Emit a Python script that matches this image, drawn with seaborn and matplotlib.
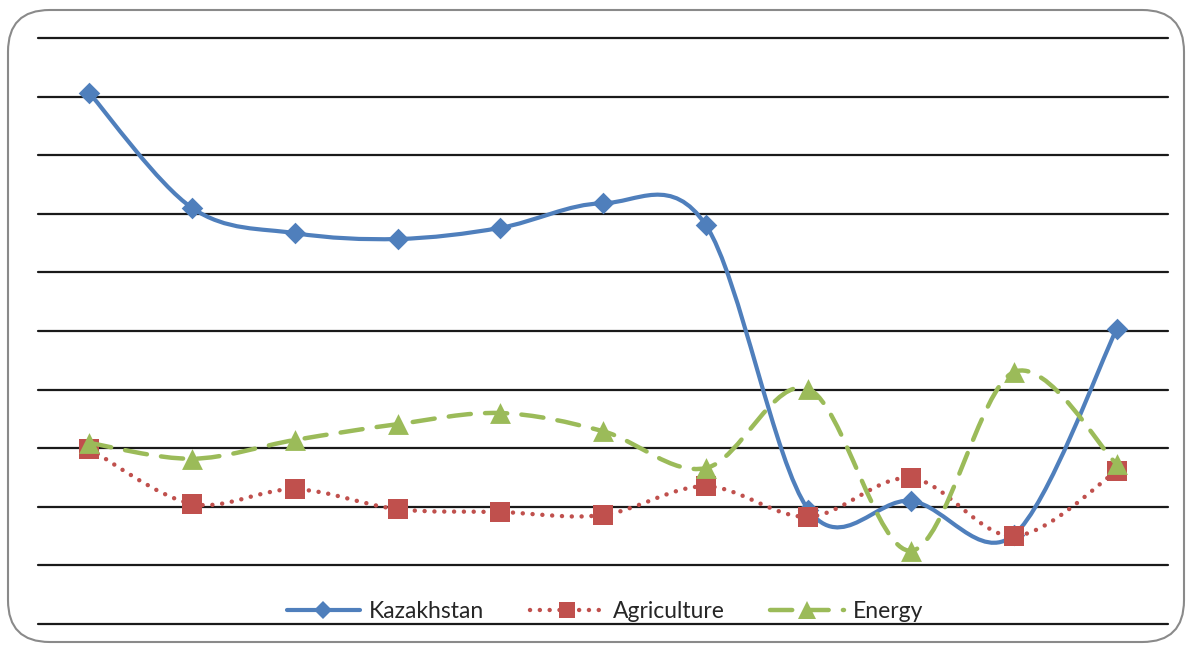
import numpy as np
import pandas as pd
import matplotlib
matplotlib.use('Agg')
import matplotlib.pyplot as plt
import seaborn as sns
from matplotlib.path import Path
from matplotlib.patches import PathPatch, FancyBboxPatch
from matplotlib.lines import Line2D

# 数据（从图上读取，纵轴无刻度，按网格线为单位）
points = list(range(1, 12))
kazakhstan = [9.06, 7.10, 6.67, 6.57, 6.76, 7.18, 6.81, 1.95, 2.10, 1.52, 5.03]
agriculture = [2.99, 2.05, 2.30, 1.96, 1.91, 1.86, 2.35, 1.83, 2.49, 1.50, 2.61]
energy = [3.09, 2.82, 3.14, 3.41, 3.60, 3.29, 2.66, 4.01, 1.25, 4.30, 2.73]
series_names = ['Kazakhstan', 'Agriculture', 'Energy']


def smooth_path(x, y):
    # 类似Excel的平滑线：Catmull-Rom转三次贝塞尔
    x = np.asarray(x, float)
    y = np.asarray(y, float)
    n = len(x)
    verts = [(x[0], y[0])]
    codes = [Path.MOVETO]
    for i in range(n - 1):
        p0 = np.array([x[max(i - 1, 0)], y[max(i - 1, 0)]])
        p1 = np.array([x[i], y[i]])
        p2 = np.array([x[i + 1], y[i + 1]])
        p3 = np.array([x[min(i + 2, n - 1)], y[min(i + 2, n - 1)]])
        c1 = p1 + (p2 - p0) / 6.0
        c2 = p2 - (p3 - p1) / 6.0
        verts += [tuple(c1), tuple(c2), tuple(p2)]
        codes += [Path.CURVE4] * 3
    return Path(verts, codes)


sns.set_style('white')
plt.rcParams['font.family'] = ['Lato', 'DejaVu Sans']

fig = plt.figure(figsize=(11.92, 6.45), dpi=100)
ax = fig.add_axes([38 / 1192, 21 / 645, 1130 / 1192, 586 / 645])

# 圆角外框
frame = FancyBboxPatch((8 / 1192, 3 / 645), 1176 / 1192, 632 / 645,
                       boxstyle='round,pad=0,rounding_size=0.035',
                       transform=fig.transFigure, facecolor='none',
                       edgecolor='#8a8a8a', linewidth=1.5, zorder=0,
                       mutation_aspect=1192 / 645)
fig.patches.append(frame)

styles = {
    'Kazakhstan': dict(color='#4F7FBC', ls='-', lw=3.0, marker='D', ms=11),
    'Agriculture': dict(color='#C0504D', ls=(0, (0.01, 2.2)), lw=3.2, marker='s', ms=14),
    'Energy': dict(color='#9BBB59', ls=(0, (5.0, 3.2)), lw=3.2, marker='^', ms=15),
}
values = {'Kazakhstan': kazakhstan, 'Agriculture': agriculture, 'Energy': energy}

for k, name in enumerate(series_names):
    st = styles[name]
    path = smooth_path(points, values[name])
    patch = PathPatch(path, facecolor='none', edgecolor=st['color'],
                      linewidth=st['lw'], linestyle=st['ls'],
                      capstyle='round', joinstyle='round', zorder=3 + k * 2)
    ax.add_patch(patch)
    df = pd.DataFrame({'x': points, 'y': values[name]})
    sns.scatterplot(data=df, x='x', y='y', ax=ax, marker=st['marker'],
                    s=st['ms'] ** 2, color=st['color'], edgecolor=st['color'],
                    linewidth=0, zorder=4 + k * 2, legend=False)

ax.set_xlim(0.5, 11.5)
ax.set_ylim(0, 10)
ax.set_yticks(range(0, 11))
ax.set_xticks([])
ax.set_yticklabels([])
ax.tick_params(left=False, bottom=False)
ax.grid(axis='y', color='#1a1a1a', linewidth=1.6)
for gl in ax.get_ygridlines():
    gl.set_clip_on(False)
ax.set_axisbelow(True)
for s in ax.spines.values():
    s.set_visible(False)
ax.set_xlabel('')
ax.set_ylabel('')
ax.patch.set_alpha(0)

handles = []
for name in series_names:
    st = styles[name]
    handles.append(Line2D([], [], color=st['color'], linestyle=st['ls'],
                          linewidth=st['lw'], marker=st['marker'],
                          markersize=st['ms'] * 0.85, dash_capstyle='round',
                          markeredgewidth=0))
fig.legend(handles, series_names, loc='center', bbox_to_anchor=(605 / 1192, 33 / 645),
           ncol=3, frameon=False, fontsize=16.5, handlelength=3.2,
           columnspacing=2.0, handletextpad=0.4)

fig.savefig('out.png', dpi=100)
